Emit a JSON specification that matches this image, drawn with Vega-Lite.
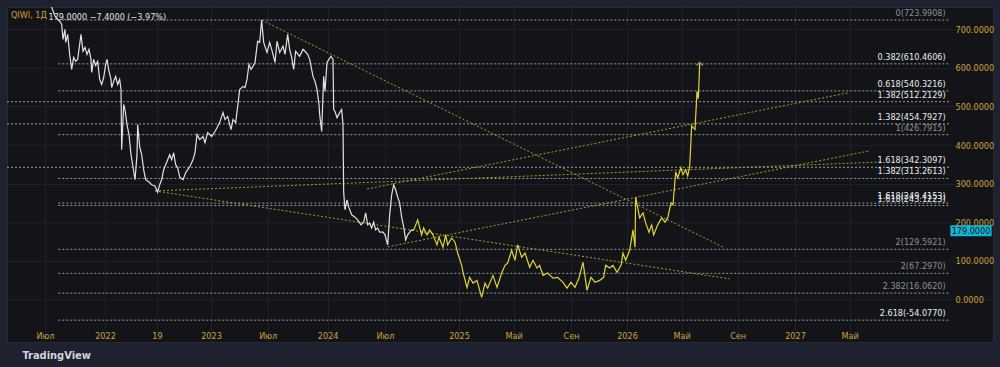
{
  "$schema": "https://vega.github.io/schema/vega-lite/v6.json",
  "width": 986,
  "height": 335,
  "autosize": {"type": "none"},
  "padding": {"left": 7, "top": 7, "right": 7, "bottom": 25},
  "background": "#1e2130",
  "config": {
    "view": {"fill": "#121418", "stroke": "#262a35"},
    "font": "Liberation Sans Narrow, DejaVu Sans Condensed, Liberation Sans, sans-serif"
  },
  "title": {
    "text": "QIWI, 1Д",
    "anchor": "start",
    "frame": "group",
    "orient": "top",
    "offset": -13,
    "dx": 4,
    "color": "#d1a03a",
    "fontSize": 9,
    "fontWeight": "normal",
    "font": "Liberation Sans Narrow, DejaVu Sans Condensed, Liberation Sans, sans-serif"
  },
  "resolve": {"scale": {"color": "independent"}},
  "datasets": {
    "price": [
      {"series": "hist", "bar": 4, "price": 773}, {"series": "hist", "bar": 10, "price": 757}, {"series": "hist", "bar": 15, "price": 734}, {"series": "hist", "bar": 19, "price": 726}, {"series": "hist", "bar": 22, "price": 721}, {"series": "hist", "bar": 25, "price": 713}, {"series": "hist", "bar": 27, "price": 674}, {"series": "hist", "bar": 30, "price": 700}, {"series": "hist", "bar": 31, "price": 666}, {"series": "hist", "bar": 34, "price": 687}, {"series": "hist", "bar": 37, "price": 635}, {"series": "hist", "bar": 40, "price": 596}, {"series": "hist", "bar": 43, "price": 627}, {"series": "hist", "bar": 46, "price": 617}, {"series": "hist", "bar": 49, "price": 622}, {"series": "hist", "bar": 54, "price": 687}, {"series": "hist", "bar": 57, "price": 643}, {"series": "hist", "bar": 60, "price": 653}, {"series": "hist", "bar": 63, "price": 635}, {"series": "hist", "bar": 66, "price": 648}, {"series": "hist", "bar": 69, "price": 622}, {"series": "hist", "bar": 70, "price": 588}, {"series": "hist", "bar": 73, "price": 622}, {"series": "hist", "bar": 76, "price": 606}, {"series": "hist", "bar": 79, "price": 617}, {"series": "hist", "bar": 82, "price": 570}, {"series": "hist", "bar": 85, "price": 557}, {"series": "hist", "bar": 88, "price": 575}, {"series": "hist", "bar": 91, "price": 609}, {"series": "hist", "bar": 93, "price": 622}, {"series": "hist", "bar": 96, "price": 591}, {"series": "hist", "bar": 99, "price": 570}, {"series": "hist", "bar": 100, "price": 549}, {"series": "hist", "bar": 103, "price": 565}, {"series": "hist", "bar": 106, "price": 578}, {"series": "hist", "bar": 109, "price": 557}, {"series": "hist", "bar": 112, "price": 570}, {"series": "hist", "bar": 114, "price": 544}, {"series": "hist", "bar": 115, "price": 388}, {"series": "hist", "bar": 117, "price": 466}, {"series": "hist", "bar": 118, "price": 505}, {"series": "hist", "bar": 120, "price": 492}, {"series": "hist", "bar": 123, "price": 453}, {"series": "hist", "bar": 126, "price": 427}, {"series": "hist", "bar": 129, "price": 375}, {"series": "hist", "bar": 132, "price": 343}, {"series": "hist", "bar": 135, "price": 310}, {"series": "hist", "bar": 138, "price": 375}, {"series": "hist", "bar": 139, "price": 453}, {"series": "hist", "bar": 142, "price": 396}, {"series": "hist", "bar": 145, "price": 375}, {"series": "hist", "bar": 148, "price": 336}, {"series": "hist", "bar": 151, "price": 310}, {"series": "hist", "bar": 156, "price": 304}, {"series": "hist", "bar": 160, "price": 297}, {"series": "hist", "bar": 165, "price": 294}, {"series": "hist", "bar": 169, "price": 278}, {"series": "hist", "bar": 172, "price": 297}, {"series": "hist", "bar": 175, "price": 310}, {"series": "hist", "bar": 178, "price": 336}, {"series": "hist", "bar": 181, "price": 349}, {"series": "hist", "bar": 184, "price": 362}, {"series": "hist", "bar": 187, "price": 375}, {"series": "hist", "bar": 190, "price": 362}, {"series": "hist", "bar": 193, "price": 380}, {"series": "hist", "bar": 196, "price": 349}, {"series": "hist", "bar": 199, "price": 341}, {"series": "hist", "bar": 202, "price": 317}, {"series": "hist", "bar": 207, "price": 310}, {"series": "hist", "bar": 211, "price": 328}, {"series": "hist", "bar": 214, "price": 336}, {"series": "hist", "bar": 217, "price": 343}, {"series": "hist", "bar": 222, "price": 362}, {"series": "hist", "bar": 225, "price": 380}, {"series": "hist", "bar": 228, "price": 427}, {"series": "hist", "bar": 232, "price": 414}, {"series": "hist", "bar": 237, "price": 422}, {"series": "hist", "bar": 240, "price": 406}, {"series": "hist", "bar": 244, "price": 432}, {"series": "hist", "bar": 250, "price": 422}, {"series": "hist", "bar": 255, "price": 435}, {"series": "hist", "bar": 259, "price": 448}, {"series": "hist", "bar": 262, "price": 458}, {"series": "hist", "bar": 267, "price": 484}, {"series": "hist", "bar": 270, "price": 466}, {"series": "hist", "bar": 274, "price": 474}, {"series": "hist", "bar": 279, "price": 440}, {"series": "hist", "bar": 282, "price": 466}, {"series": "hist", "bar": 286, "price": 458}, {"series": "hist", "bar": 289, "price": 500}, {"series": "hist", "bar": 292, "price": 544}, {"series": "hist", "bar": 297, "price": 552}, {"series": "hist", "bar": 300, "price": 549}, {"series": "hist", "bar": 303, "price": 570}, {"series": "hist", "bar": 306, "price": 609}, {"series": "hist", "bar": 309, "price": 596}, {"series": "hist", "bar": 312, "price": 604}, {"series": "hist", "bar": 315, "price": 614}, {"series": "hist", "bar": 318, "price": 656}, {"series": "hist", "bar": 319, "price": 669}, {"series": "hist", "bar": 322, "price": 666}, {"series": "hist", "bar": 325, "price": 724}, {"series": "hist", "bar": 328, "price": 666}, {"series": "hist", "bar": 333, "price": 640}, {"series": "hist", "bar": 337, "price": 666}, {"series": "hist", "bar": 340, "price": 648}, {"series": "hist", "bar": 345, "price": 614}, {"series": "hist", "bar": 348, "price": 669}, {"series": "hist", "bar": 352, "price": 640}, {"series": "hist", "bar": 357, "price": 656}, {"series": "hist", "bar": 360, "price": 635}, {"series": "hist", "bar": 364, "price": 687}, {"series": "hist", "bar": 367, "price": 648}, {"series": "hist", "bar": 370, "price": 627}, {"series": "hist", "bar": 373, "price": 596}, {"series": "hist", "bar": 376, "price": 643}, {"series": "hist", "bar": 382, "price": 630}, {"series": "hist", "bar": 387, "price": 648}, {"series": "hist", "bar": 390, "price": 643}, {"series": "hist", "bar": 394, "price": 635}, {"series": "hist", "bar": 397, "price": 622}, {"series": "hist", "bar": 402, "price": 578}, {"series": "hist", "bar": 405, "price": 565}, {"series": "hist", "bar": 408, "price": 544}, {"series": "hist", "bar": 411, "price": 505}, {"series": "hist", "bar": 412, "price": 479}, {"series": "hist", "bar": 415, "price": 435}, {"series": "hist", "bar": 418, "price": 578}, {"series": "hist", "bar": 420, "price": 539}, {"series": "hist", "bar": 423, "price": 614}, {"series": "hist", "bar": 426, "price": 622}, {"series": "hist", "bar": 429, "price": 630}, {"series": "hist", "bar": 432, "price": 622}, {"series": "hist", "bar": 433, "price": 492}, {"series": "hist", "bar": 435, "price": 487}, {"series": "hist", "bar": 438, "price": 471}, {"series": "hist", "bar": 442, "price": 484}, {"series": "hist", "bar": 445, "price": 492}, {"series": "hist", "bar": 447, "price": 453}, {"series": "hist", "bar": 448, "price": 278}, {"series": "hist", "bar": 450, "price": 232}, {"series": "hist", "bar": 453, "price": 258}, {"series": "hist", "bar": 456, "price": 237}, {"series": "hist", "bar": 460, "price": 219}, {"series": "hist", "bar": 465, "price": 213}, {"series": "hist", "bar": 469, "price": 206}, {"series": "hist", "bar": 474, "price": 193}, {"series": "hist", "bar": 478, "price": 200}, {"series": "hist", "bar": 481, "price": 224}, {"series": "hist", "bar": 484, "price": 193}, {"series": "hist", "bar": 487, "price": 198}, {"series": "hist", "bar": 490, "price": 185}, {"series": "hist", "bar": 493, "price": 200}, {"series": "hist", "bar": 496, "price": 180}, {"series": "hist", "bar": 499, "price": 185}, {"series": "hist", "bar": 502, "price": 174}, {"series": "hist", "bar": 507, "price": 174}, {"series": "hist", "bar": 510, "price": 167}, {"series": "hist", "bar": 514, "price": 141}, {"series": "hist", "bar": 517, "price": 219}, {"series": "hist", "bar": 520, "price": 271}, {"series": "hist", "bar": 523, "price": 297}, {"series": "hist", "bar": 526, "price": 284}, {"series": "hist", "bar": 529, "price": 265}, {"series": "hist", "bar": 532, "price": 250}, {"series": "hist", "bar": 535, "price": 213}, {"series": "hist", "bar": 538, "price": 187}, {"series": "hist", "bar": 541, "price": 154}, {"series": "hist", "bar": 544, "price": 167}, {"series": "hist", "bar": 547, "price": 174}, {"series": "hist", "bar": 550, "price": 180}, {"series": "hist", "bar": 553, "price": 179},
      {"series": "proj", "bar": 553, "price": 179}, {"series": "proj", "bar": 559, "price": 206}, {"series": "proj", "bar": 565, "price": 167}, {"series": "proj", "bar": 568, "price": 185}, {"series": "proj", "bar": 573, "price": 167}, {"series": "proj", "bar": 577, "price": 180}, {"series": "proj", "bar": 582, "price": 167}, {"series": "proj", "bar": 588, "price": 141}, {"series": "proj", "bar": 591, "price": 161}, {"series": "proj", "bar": 597, "price": 135}, {"series": "proj", "bar": 601, "price": 167}, {"series": "proj", "bar": 604, "price": 141}, {"series": "proj", "bar": 610, "price": 159}, {"series": "proj", "bar": 615, "price": 148}, {"series": "proj", "bar": 619, "price": 120}, {"series": "proj", "bar": 625, "price": 88}, {"series": "proj", "bar": 627, "price": 70}, {"series": "proj", "bar": 633, "price": 31}, {"series": "proj", "bar": 637, "price": 57}, {"series": "proj", "bar": 642, "price": 42}, {"series": "proj", "bar": 648, "price": 49}, {"series": "proj", "bar": 655, "price": 5}, {"series": "proj", "bar": 660, "price": 42}, {"series": "proj", "bar": 664, "price": 29}, {"series": "proj", "bar": 672, "price": 62}, {"series": "proj", "bar": 678, "price": 31}, {"series": "proj", "bar": 685, "price": 68}, {"series": "proj", "bar": 690, "price": 88}, {"series": "proj", "bar": 694, "price": 94}, {"series": "proj", "bar": 700, "price": 127}, {"series": "proj", "bar": 705, "price": 101}, {"series": "proj", "bar": 709, "price": 141}, {"series": "proj", "bar": 715, "price": 109}, {"series": "proj", "bar": 720, "price": 120}, {"series": "proj", "bar": 727, "price": 83}, {"series": "proj", "bar": 732, "price": 101}, {"series": "proj", "bar": 738, "price": 81}, {"series": "proj", "bar": 742, "price": 88}, {"series": "proj", "bar": 747, "price": 62}, {"series": "proj", "bar": 754, "price": 68}, {"series": "proj", "bar": 762, "price": 55}, {"series": "proj", "bar": 769, "price": 57}, {"series": "proj", "bar": 777, "price": 44}, {"series": "proj", "bar": 783, "price": 29}, {"series": "proj", "bar": 789, "price": 44}, {"series": "proj", "bar": 795, "price": 31}, {"series": "proj", "bar": 801, "price": 55}, {"series": "proj", "bar": 807, "price": 96}, {"series": "proj", "bar": 813, "price": 23}, {"series": "proj", "bar": 819, "price": 57}, {"series": "proj", "bar": 825, "price": 44}, {"series": "proj", "bar": 832, "price": 49}, {"series": "proj", "bar": 838, "price": 57}, {"series": "proj", "bar": 841, "price": 88}, {"series": "proj", "bar": 847, "price": 81}, {"series": "proj", "bar": 852, "price": 88}, {"series": "proj", "bar": 858, "price": 70}, {"series": "proj", "bar": 864, "price": 88}, {"series": "proj", "bar": 867, "price": 120}, {"series": "proj", "bar": 871, "price": 101}, {"series": "proj", "bar": 877, "price": 127}, {"series": "proj", "bar": 882, "price": 180}, {"series": "proj", "bar": 885, "price": 135}, {"series": "proj", "bar": 886, "price": 265}, {"series": "proj", "bar": 892, "price": 211}, {"series": "proj", "bar": 897, "price": 224}, {"series": "proj", "bar": 901, "price": 198}, {"series": "proj", "bar": 906, "price": 174}, {"series": "proj", "bar": 910, "price": 193}, {"series": "proj", "bar": 913, "price": 167}, {"series": "proj", "bar": 919, "price": 193}, {"series": "proj", "bar": 925, "price": 211}, {"series": "proj", "bar": 930, "price": 200}, {"series": "proj", "bar": 934, "price": 211}, {"series": "proj", "bar": 939, "price": 250}, {"series": "proj", "bar": 942, "price": 245}, {"series": "proj", "bar": 946, "price": 330}, {"series": "proj", "bar": 949, "price": 315}, {"series": "proj", "bar": 954, "price": 341}, {"series": "proj", "bar": 957, "price": 323}, {"series": "proj", "bar": 961, "price": 336}, {"series": "proj", "bar": 964, "price": 320}, {"series": "proj", "bar": 967, "price": 343}, {"series": "proj", "bar": 970, "price": 450}, {"series": "proj", "bar": 975, "price": 440}, {"series": "proj", "bar": 978, "price": 539}, {"series": "proj", "bar": 980, "price": 520}, {"series": "proj", "bar": 982, "price": 611}
    ],
    "fib": [
      {"bar": 20, "price": 723.9908, "label": "0(723.9908)", "tone": "g"},
      {"bar": 20, "price": 610.4606, "label": "0.382(610.4606)", "tone": "w"},
      {"bar": 20, "price": 540.3216, "label": "0.618(540.3216)", "tone": "w"},
      {"bar": -57, "price": 512.2129, "label": "1.382(512.2129)", "tone": "w"},
      {"bar": -57, "price": 454.7927, "label": "1.382(454.7927)", "tone": "w"},
      {"bar": 20, "price": 426.7915, "label": "1(426.7915)", "tone": "g"},
      {"bar": -57, "price": 342.3097, "label": "1.618(342.3097)", "tone": "w"},
      {"bar": 20, "price": 313.2613, "label": "1.382(313.2613)", "tone": "w"},
      {"bar": 20, "price": 249.4153, "label": "1.618(249.4153)", "tone": "w"},
      {"bar": 20, "price": 243.1223, "label": "1.618(243.1223)", "tone": "w"},
      {"bar": 20, "price": 129.5921, "label": "2(129.5921)", "tone": "g"},
      {"bar": 20, "price": 67.297, "label": "2(67.2970)", "tone": "g"},
      {"bar": 20, "price": 16.062, "label": "2.382(16.0620)", "tone": "g"},
      {"bar": 20, "price": -54.077, "label": "2.618(-54.0770)", "tone": "w"}
    ],
    "trend": [
      {"id": "t1", "bar": 325, "price": 724}, {"id": "t1", "bar": 1020, "price": 133},
      {"id": "t2", "bar": 165, "price": 281}, {"id": "t2", "bar": 1027, "price": 53},
      {"id": "t3", "bar": 165, "price": 281}, {"id": "t3", "bar": 1254, "price": 356},
      {"id": "t4", "bar": 483, "price": 286}, {"id": "t4", "bar": 1204, "price": 535},
      {"id": "t5", "bar": 514, "price": 136}, {"id": "t5", "bar": 1237, "price": 385}
    ]
  },
  "encoding": {
    "x": {
      "field": "bar",
      "type": "quantitative",
      "scale": {"domain": [-57, 1422], "nice": false, "zero": false},
      "axis": {
        "orient": "bottom",
        "offset": -17,
        "values": [0, 90, 168, 249, 334, 424, 510, 621, 703, 789, 873, 955, 1039, 1125, 1207],
        "labelExpr": "['Июл','2022','19','2023','Июл','2024','Июл','2025','Май','Сен','2026','Май','Сен','2027','Май'][indexof([0,90,168,249,334,424,510,621,703,789,873,955,1039,1125,1207], datum.value)]",
        "labelColor": "#d1a03a",
        "labelFontSize": 9,
        "labelPadding": 6,
        "labelOverlap": false,
        "labelFlush": false,
        "domain": false,
        "ticks": false,
        "grid": true,
        "gridColor": "#1c1f27",
        "title": "179.0000  −7.4000 (−3.97%)",
        "titleX": 41,
        "titleY": -309,
        "titleAlign": "left",
        "titleAnchor": "start",
        "titleBaseline": "middle",
        "titleColor": "#e0e3eb",
        "titleFontSize": 9,
        "titleFontWeight": "normal"
      }
    },
    "y": {
      "field": "price",
      "type": "quantitative",
      "scale": {"domain": [-110.7, 757.8], "nice": false, "zero": false},
      "axis": {
        "orient": "right",
        "offset": -43,
        "values": [0, 100, 200, 300, 400, 500, 600, 700],
        "format": ".4f",
        "labelColor": "#d1a03a",
        "labelFontSize": 9,
        "labelPadding": 5,
        "domain": false,
        "ticks": false,
        "grid": true,
        "gridColor": "#1c1f27",
        "title": "TradingView",
        "titleX": -928,
        "titleY": 348,
        "titleAngle": 0,
        "titleAlign": "left",
        "titleBaseline": "middle",
        "titleColor": "#d1d4dc",
        "titleFontSize": 11,
        "titleFontWeight": "bold"
      }
    }
  },
  "layer": [
    {
      "data": {"name": "fib"},
      "mark": {"type": "rule", "strokeDash": [2, 2], "strokeWidth": 1, "color": "#9a9da6"},
      "encoding": {"x2": {"datum": 1357}}
    },
    {
      "data": {"name": "trend"},
      "mark": {"type": "line", "strokeDash": [2, 2], "strokeWidth": 1, "color": "#a99c2c", "clip": true},
      "encoding": {"detail": {"field": "id"}}
    },
    {
      "data": {"name": "price"},
      "mark": {"type": "line", "strokeWidth": 1.2, "clip": true},
      "encoding": {
        "color": {"field": "series", "type": "nominal", "scale": {"domain": ["hist", "proj"], "range": ["#e2e2e2", "#e3d23c"]}, "legend": null}
      }
    },
    {
      "data": {"name": "price"},
      "transform": [{"filter": "datum.bar == 982"}],
      "mark": {"type": "point", "shape": "M-1,0.6L0,-0.4L1,0.6", "size": 40, "filled": false, "color": "#e3d23c", "strokeWidth": 1.2}
    },
    {
      "data": {"name": "fib"},
      "mark": {"type": "text", "align": "right", "baseline": "bottom", "dx": -4, "dy": -2, "fontSize": 9},
      "encoding": {
        "x": {"datum": 1357, "type": "quantitative"},
        "text": {"field": "label"},
        "color": {"field": "tone", "type": "nominal", "scale": {"domain": ["w", "g"], "range": ["#ececec", "#8e919a"]}, "legend": null}
      }
    },
    {
      "data": {"name": "price"},
      "transform": [{"filter": "datum.series == 'hist' && datum.bar == 553"}],
      "mark": {"type": "rect", "color": "#12b6d4", "yOffset": -5, "y2Offset": 6},
      "encoding": {
        "x": {"datum": 1358, "type": "quantitative"},
        "x2": {"datum": 1420},
        "y2": {"field": "price"}
      }
    },
    {
      "data": {"name": "price"},
      "transform": [{"filter": "datum.series == 'hist' && datum.bar == 553"}],
      "mark": {"type": "text", "align": "center", "baseline": "middle", "dy": 1, "fontSize": 9, "color": "#0e1219"},
      "encoding": {"x": {"datum": 1389, "type": "quantitative"}, "text": {"field": "price", "format": ".4f"}}
    }
  ]
}
